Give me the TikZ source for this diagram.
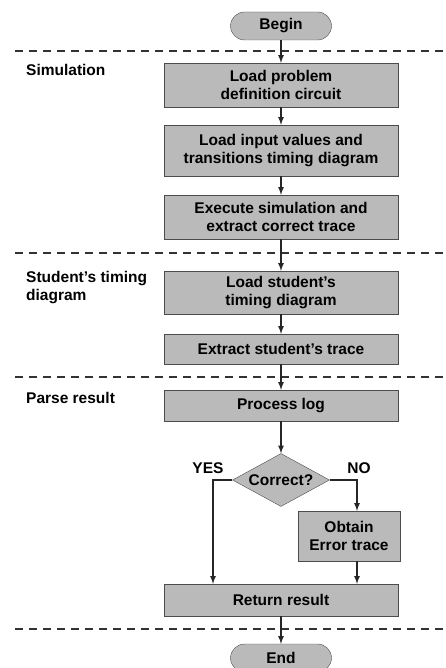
\documentclass[tikz,border=0pt]{standalone}
\usepackage{fontspec}
\setmainfont{Liberation Sans}
\usetikzlibrary{shapes.geometric}
\tikzset{
    stepbox/.style={rectangle,draw=black!70,fill=black!27,minimum width=234pt,inner sep=0pt,align=center},
    termbox/.style={rectangle,rounded corners=14pt,draw=black!70,fill=black!27,minimum width=101pt,minimum height=28pt,inner sep=0pt},
    testbox/.style={diamond,aspect=1.83,draw=black!70,fill=black!27,minimum width=97pt,minimum height=53pt,inner sep=-3pt},
    lbl/.style={inner sep=0pt,align=left},
    flow/.style={->,line width=1.6pt,draw=black!85},
    sep/.style={line width=1.3pt,draw=black!80,dash pattern=on 8pt off 6pt}
}
\begin{document}
\begin{tikzpicture}[x=1pt,y=-1pt,>=latex,font=\bfseries\fontsize{15.5}{18}\selectfont]
        \useasboundingbox (0,0) rectangle (445,668);
        % phase separators
        \draw[sep] (15,51) -- (445,51);
        \draw[sep] (15,253) -- (445,253);
        \draw[sep] (15,377) -- (445,377);
        \draw[sep] (15,629) -- (445,629);
        % phase labels
        \node[lbl,anchor=base west] (simlbl) at (26,76) {Simulation};
        \node[lbl,anchor=north west] (stulbl) at (26,271) {Student's timing\\diagram};
        \node[lbl,anchor=base west] (parlbl) at (26,403) {Parse result};
        % steps
        \node[termbox] (begin) at (281,26) {Begin};
        \node[stepbox,minimum height=44pt] (loaddef) at (281,85) {Load problem\\definition circuit};
        \node[stepbox,minimum height=51pt] (loadin) at (281,150.5) {Load input values and\\transitions timing diagram};
        \node[stepbox,minimum height=44pt] (exec) at (281,217) {Execute simulation and\\extract correct trace};
        \node[stepbox,minimum height=43pt] (loadstu) at (281,292.5) {Load student's\\timing diagram};
        \node[stepbox,minimum height=30pt] (extract) at (281,349) {Extract student's trace};
        \node[stepbox,minimum height=31pt] (proc) at (281,405.5) {Process log};
        \node[testbox] (check) at (281,480) {Correct?};
        \node[stepbox,minimum width=102pt,minimum height=50pt] (obtain) at (349,536) {Obtain\\Error trace};
        \node[stepbox,minimum height=32pt] (ret) at (281,600) {Return result};
        \node[termbox] (end) at (281,658) {End};
        \node[lbl] (yes) at (208,468) {YES};
        \node[lbl] (no) at (359,468) {NO};
        \coordinate (yescol) at (213,0);
        \coordinate (nocol) at (357,0);
        % flow
        \draw[flow] (begin) -- (loaddef);
        \draw[flow] (loaddef) -- (loadin);
        \draw[flow] (loadin) -- (exec);
        \draw[flow] (exec) -- (loadstu);
        \draw[flow] (loadstu) -- (extract);
        \draw[flow] (extract) -- (proc);
        \draw[flow] (proc) -- (check);
        \draw[flow] (check.west) -| (ret.north -| yescol);
        \draw[flow] (check.east) -| (obtain.north -| nocol);
        \draw[flow] (obtain.south -| nocol) -- (ret.north -| nocol);
        \draw[flow] (ret) -- (end);
    \end{tikzpicture}
\end{document}
